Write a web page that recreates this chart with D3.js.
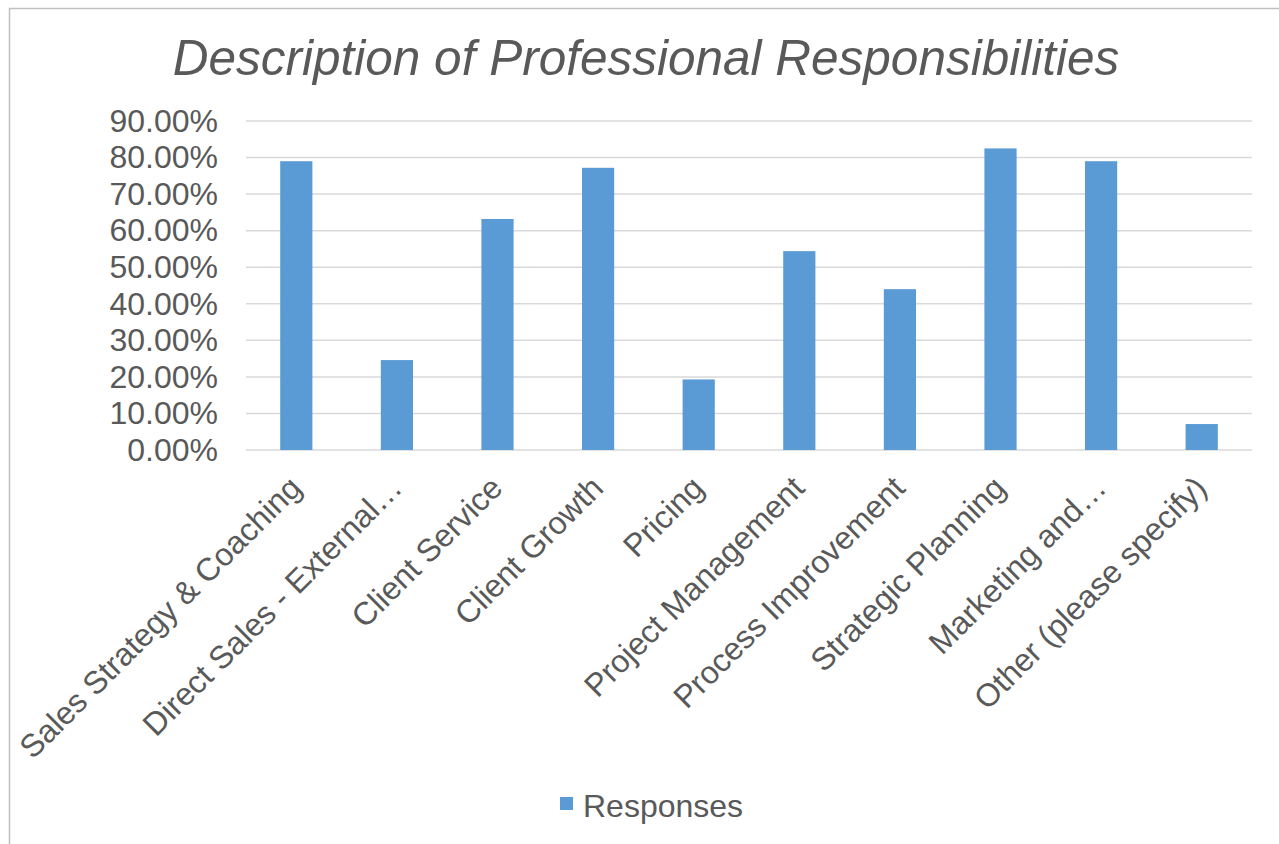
<!DOCTYPE html>
<html>
<head>
<meta charset="utf-8">
<script src="https://cdn.jsdelivr.net/npm/d3@7"></script>
<style>
  html, body { margin: 0; padding: 0; background: #fff; }
  svg { display: block; font-family: "Liberation Sans", Arial, sans-serif; }
</style>
</head>
<body>
<svg id="chart" width="1279" height="844"></svg>
<script>
// ── data ──────────────────────────────────────────────
const categories = [
  "Sales Strategy & Coaching",
  "Direct Sales - External…",
  "Client Service",
  "Client Growth",
  "Pricing",
  "Project Management",
  "Process Improvement",
  "Strategic Planning",
  "Marketing and…",
  "Other (please specify)",
];
const responses = [0.79, 0.246, 0.632, 0.772, 0.193, 0.544, 0.44, 0.825, 0.79, 0.071];
const yTicks = [0, 0.1, 0.2, 0.3, 0.4, 0.5, 0.6, 0.7, 0.8, 0.9];
const seriesName = "Responses";
const chartTitle = "Description of Professional Responsibilities";

// ── layout ────────────────────────────────────────────
const W = 1279, H = 844;
const plot = { left: 246, right: 1252, top: 121, bottom: 450 };
const textColor = "#595959";
const barColor = "#5b9bd5";

const svg = d3.select("#chart");

// chart border
svg.append("rect")
  .attr("x", 9.5).attr("y", 8.5)
  .attr("width", W + 10).attr("height", H + 10)
  .attr("fill", "none").attr("stroke", "#bfbfbf").attr("stroke-width", 1.5);

const x = d3.scaleBand()
  .domain(categories)
  .range([plot.left, plot.right])
  .paddingInner(0.68)
  .paddingOuter(0.34);

const y = d3.scaleLinear().domain([0, 0.9]).range([plot.bottom, plot.top]);

// gridlines
svg.append("g")
  .selectAll("line")
  .data(yTicks)
  .join("line")
  .attr("x1", plot.left).attr("x2", plot.right)
  .attr("y1", (d) => y(d)).attr("y2", (d) => y(d))
  .attr("stroke", "#d9d9d9").attr("stroke-width", 1.5);

// y axis labels
const yAxis = d3.axisLeft(y).tickValues(yTicks).tickFormat(d3.format(".2%")).tickSize(0).tickPadding(28);
const gy = svg.append("g").attr("transform", `translate(${plot.left},0)`).call(yAxis);
gy.select(".domain").remove();
gy.selectAll("text")
  .attr("fill", textColor)
  .style("font-size", "32px")
  .style("font-family", "Liberation Sans, Arial, sans-serif");

// bars
svg.append("g")
  .selectAll("rect")
  .data(responses)
  .join("rect")
  .attr("x", (d, i) => x(categories[i]))
  .attr("y", (d) => y(d))
  .attr("width", x.bandwidth())
  .attr("height", (d) => y(0) - y(d))
  .attr("fill", barColor);

// category labels, rotated like the spreadsheet axis
const xAxis = d3.axisBottom(x).tickSize(0).tickPadding(0);
const gx = svg.append("g").attr("transform", `translate(0,${plot.bottom})`).call(xAxis);
gx.select(".domain").remove();
gx.selectAll(".tick text")
  .attr("fill", textColor)
  .style("font-size", "32px")
  .style("font-family", "Liberation Sans, Arial, sans-serif")
  .attr("text-anchor", "end")
  .attr("dy", "0.35em")
  .attr("y", 0)
  .attr("transform", "translate(-1,32) rotate(-45)");

// title
svg.append("text")
  .attr("x", 646).attr("y", 75)
  .attr("text-anchor", "middle")
  .attr("fill", textColor)
  .style("font-size", "49.5px")
  .style("font-style", "italic")
  .text(chartTitle);

// legend
const legend = svg.append("g").attr("transform", "translate(560,797)");
legend.append("rect").attr("width", 13).attr("height", 13).attr("fill", barColor);
legend.append("text")
  .attr("x", 23).attr("y", 20)
  .attr("fill", textColor)
  .style("font-size", "32px")
  .text(seriesName);
</script>
</body>
</html>
